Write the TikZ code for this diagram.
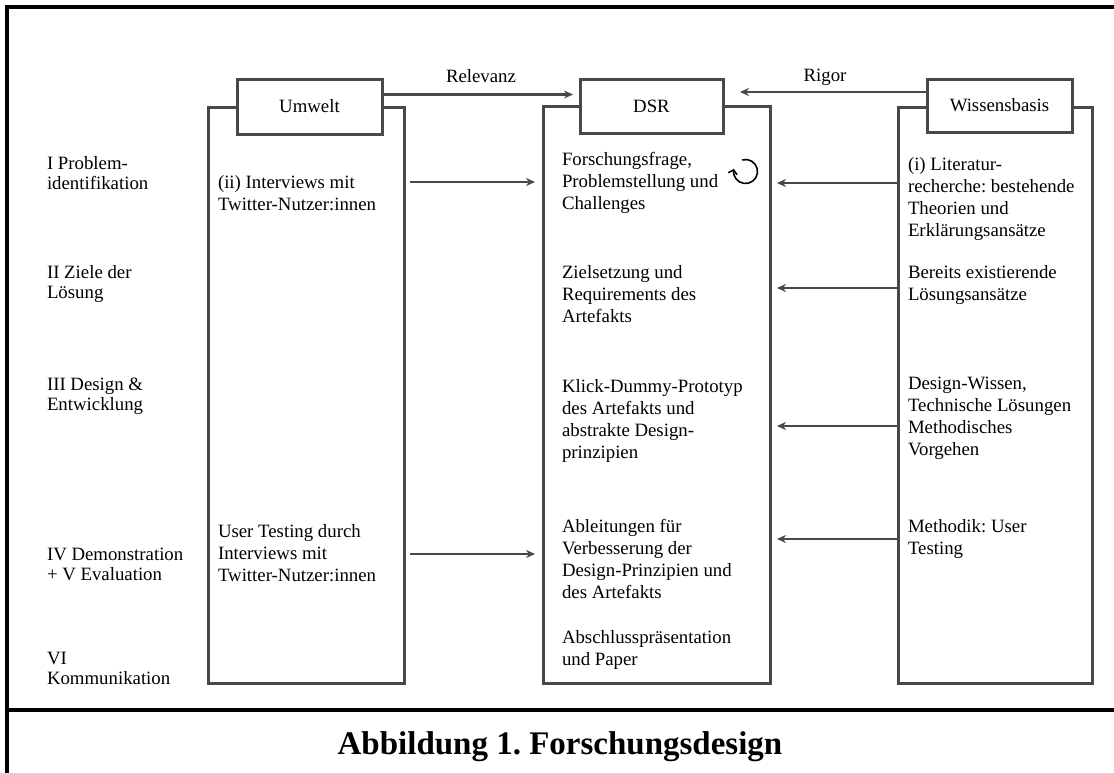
\documentclass[tikz,border=0pt]{standalone}
\usepackage{fontspec}
\setmainfont{Liberation Serif}
\usetikzlibrary{arrows.meta,calc}
\definecolor{linegray}{RGB}{72,72,72}
\frenchspacing
\tikzset{
  txt/.style={anchor=north west, inner sep=0pt, outer sep=0pt, align=left,
    font=\fontsize{18.8}{22}\selectfont},
  lbl/.style={txt, font=\fontsize{18.8}{20}\selectfont},
  colbox/.style={draw=linegray, line width=3pt, inner sep=0pt, outer sep=0pt},
  hdrbox/.style={draw=linegray, line width=3pt, fill=white, inner sep=0pt,
    outer sep=0pt, font=\fontsize{18.8}{22}\selectfont},
  flow/.style={draw=linegray, line width=2.8pt, -{Stealth[length=9pt,width=8pt]}},
  frame/.style={draw=black, line width=3.5pt},
  cyclelabel/.style={font=\fontsize{18.8}{22}\selectfont, inner sep=2pt},
}
\begin{document}
\begin{tikzpicture}[x=1pt, y=-1pt]
\useasboundingbox (0,0) rectangle (1114,772);

% outer frame and caption separator
\draw[frame] (7,790) -- (7,7) -- (1130,7);
\draw[frame] (7,710) -- (1130,710);

% the three columns
\node[colbox, minimum width=196pt, minimum height=576pt] (umweltcol) at (306,395) {};
\node[colbox, minimum width=227pt, minimum height=577pt] (dsrcol) at (656.5,394.5) {};
\node[colbox, minimum width=194pt, minimum height=576pt] (wisscol) at (995,395) {};

% column headers
\node[hdrbox, minimum width=145pt, minimum height=55pt] (umweltbox) at (309.5,106.5) {Umwelt};
\node[hdrbox, minimum width=143pt, minimum height=54pt] (dsrbox) at (651.5,106) {DSR};
\node[hdrbox, minimum width=145pt, minimum height=53pt] (wissbox) at (999.5,105.5) {Wissensbasis};

% relevance and rigor cycles
\draw[flow, shorten >=7pt] ([yshift=12pt]umweltbox.east) -- ([yshift=12pt]umweltbox.east -| dsrbox.west)
  node[midway, above=8pt, cyclelabel] (relevanz) {Relevanz};
\draw[flow, shorten >=17pt] ([yshift=13.5pt]wissbox.west) -- ([yshift=13.5pt]wissbox.west -| dsrbox.east)
  node[pos=0.5, above=3pt, cyclelabel] (rigor) {Rigor};

% phase labels
\node[lbl] (p1) at (47,155) {\strut I Problem-\\identifikation};
\node[lbl] (p2) at (47,264) {\strut II Ziele der\\Lösung};
\node[lbl] (p3) at (47,376) {\strut III Design \&\\Entwicklung};
\node[lbl] (p4) at (47,546) {\strut IV Demonstration\\+ V Evaluation};
\node[lbl] (p6) at (47,650) {\strut VI\\Kommunikation};

% environment column
\node[txt] (u1) at (218,173) {\strut (ii) Interviews mit\\Twitter-Nutzer:innen};
\node[txt] (u4) at (218,522) {\strut User Testing durch\\Interviews mit\\Twitter-Nutzer:innen};

% DSR column
\node[txt] (d1) at (562,150) {\strut Forschungsfrage,\\Problemstellung und\\Challenges};
\node[txt] (d2) at (562,263) {\strut Zielsetzung und\\Requirements des\\Artefakts};
\node[txt] (d3) at (562,377) {\strut Klick-Dummy-Prototyp\\des Artefakts und\\abstrakte Design-\\prinzipien};
\node[txt] (d4) at (562,517) {\strut Ableitungen für\\Verbesserung der\\Design-Prinzipien und\\des Artefakts};
\node[txt] (d6) at (562,628) {\strut Abschlusspräsentation\\und Paper};

% knowledge base column
\node[txt] (w1) at (908,155) {\strut (i) Literatur-\\recherche: bestehende\\Theorien und\\Erklärungsansätze};
\node[txt] (w2) at (908,263) {\strut Bereits existierende\\Lösungsansätze};
\node[txt] (w3) at (908,374) {\strut Design-Wissen,\\Technische Lösungen\\Methodisches\\Vorgehen};
\node[txt] (w4) at (908,517) {\strut Methodik: User\\Testing};

% iteration symbol (counter-clockwise open circle arrow)
\coordinate (cyc) at (745.5,171.5);
\draw[black, line width=1.6pt, line cap=round, -{Straight Barb[length=4pt,width=9pt,line width=1.6pt]}]
  ($(cyc)+(255:12)$) arc[start angle=255, end angle=553, radius=12];

% row connectors
\coordinate (ua) at (410,182);
\coordinate (ub) at (410,554);
\draw[flow, shorten >=8pt] (ua) -- (ua -| dsrcol.west);
\draw[flow, shorten >=8pt] (ub) -- (ub -| dsrcol.west);
\coordinate (wa) at (898,183);
\coordinate (wb) at (898,288);
\coordinate (wc) at (898,426);
\coordinate (wd) at (898,539);
\draw[flow, shorten >=7pt] (wa -| wisscol.west) -- (wa -| dsrcol.east);
\draw[flow, shorten >=7pt] (wb -| wisscol.west) -- (wb -| dsrcol.east);
\draw[flow, shorten >=7pt] (wc -| wisscol.west) -- (wc -| dsrcol.east);
\draw[flow, shorten >=7pt] (wd -| wisscol.west) -- (wd -| dsrcol.east);

% caption
\node[anchor=base, inner sep=0pt, font=\fontsize{33}{38}\selectfont\bfseries] (caption)
  at (560,754) {Abbildung 1. Forschungsdesign};
\end{tikzpicture}
\end{document}
